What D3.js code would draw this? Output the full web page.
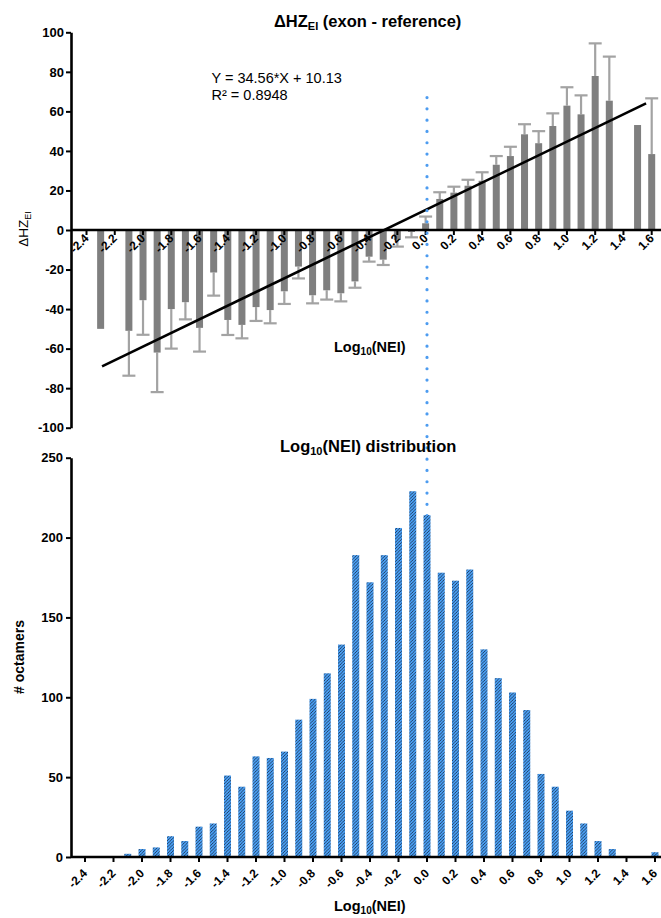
<!DOCTYPE html>
<html>
<head>
<meta charset="utf-8">
<script src="https://cdn.jsdelivr.net/npm/d3@7"></script>
<style>
  html, body { margin: 0; padding: 0; background: #fff; }
  svg { display: block; font-family: "Liberation Sans", Arial, sans-serif; }
</style>
</head>
<body>
<svg id="chart" width="661" height="918"></svg>
<script>
// ---------------- DATA ----------------
// Top panel: ΔHZ_EI (exon - reference) by Log10(NEI) bin
const topBins  = [-2.3,-2.1,-2.0,-1.9,-1.8,-1.7,-1.6,-1.5,-1.4,-1.3,-1.2,-1.1,-1.0,-0.9,-0.8,-0.7,-0.6,-0.5,-0.4,-0.3,-0.2,-0.1,0.0,0.1,0.2,0.3,0.4,0.5,0.6,0.7,0.8,0.9,1.0,1.1,1.2,1.3,1.5,1.6];
const topMeans = [-50,-51,-35.5,-62,-40,-36.5,-49.5,-21.5,-45.5,-48,-39,-40.5,-31,-18.5,-33,-30.5,-32,-26,-13.5,-15,-5,-1,3.4,15.7,18.9,22.4,24.9,33,37.4,48.4,43.9,52.6,62.9,58.5,77.9,65.4,53.1,38.4];
const topErrs  = [0,22.7,17.5,20,20,8.7,12,11.7,7.6,6.8,7,6.7,6.4,6,4.1,4.7,4.1,3.2,2.5,2.7,3.4,2.7,3.4,3.4,3,3,4.3,4.4,4.7,5.1,6.1,6.4,9.3,9.6,16.5,22.3,0,28.2];
const fitSlope = 34.56, fitIntercept = 10.13, fitR2 = "0.8948";
const fitRange = [-2.29, 1.56];
const topYTicks = [100,80,60,40,20,0,-20,-40,-60,-80,-100];

// Bottom panel: Log10(NEI) distribution
const botBins   = [-2.1,-2.0,-1.9,-1.8,-1.7,-1.6,-1.5,-1.4,-1.3,-1.2,-1.1,-1.0,-0.9,-0.8,-0.7,-0.6,-0.5,-0.4,-0.3,-0.2,-0.1,0.0,0.1,0.2,0.3,0.4,0.5,0.6,0.7,0.8,0.9,1.0,1.1,1.2,1.3,1.4,1.5,1.6];
const botCounts = [2,5,6,13,10,19,21,51,44,63,62,66,86,99,115,133,189,172,189,206,229,214,178,173,180,130,112,103,92,52,44,29,21,10,5,0,0,3];
const botYTicks = [0,50,100,150,200,250];

// Shared x tick labels
const xTicks = [-2.4,-2.2,-2.0,-1.8,-1.6,-1.4,-1.2,-1.0,-0.8,-0.6,-0.4,-0.2,0.0,0.2,0.4,0.6,0.8,1.0,1.2,1.4,1.6];
const xTickLabels = ["-2.4","-2.2","-2.0","-1.8","-1.6","-1.4","-1.2","-1.0","-0.8","-0.6","-0.4","-0.2","0.0","0.2","0.4","0.6","0.8","1.0","1.2","1.4","1.6"];

// ---------------- CHART ----------------
const svg = d3.select("#chart");
const FONT = "'Liberation Sans', Arial, sans-serif";
const axisX0 = 71, axisX1 = 661;
const barW = 7;

const topX = d3.scaleLinear().domain([-2.4, 1.6]).range([86.5, 651.7]);
const topY = d3.scaleLinear().domain([-100, 100]).range([427.7, 32.3]);
const botX = d3.scaleLinear().domain([-2.4, 1.6]).range([85, 655]);
const botY = d3.scaleLinear().domain([0, 250]).range([857, 457.7]);

// hatch pattern
const defs = svg.append("defs");
const pat = defs.append("pattern").attr("id", "hatch")
  .attr("patternUnits", "userSpaceOnUse").attr("width", 3.2).attr("height", 3.2);
pat.append("rect").attr("width", 3.2).attr("height", 3.2).attr("fill", "#4aa0f5");
pat.append("path").attr("d", "M-0.8,0.8 L0.8,-0.8 M0,3.2 L3.2,0 M2.4,4 L4,2.4")
  .attr("stroke", "#1b2c45").attr("stroke-width", 0.8);

// ===== TOP PANEL =====
const gTop = svg.append("g");
const topData = topBins.map((b, i) => ({ b, m: topMeans[i], e: topErrs[i] }));

// error bars
const errG = gTop.append("g").attr("stroke", "#a3a3a3").attr("stroke-width", 2.2);
topData.filter(d => d.e > 0).forEach(d => {
  const end = d.m + Math.sign(d.m) * d.e;
  const cx = topX(d.b);
  errG.append("line").attr("x1", cx).attr("x2", cx).attr("y1", topY(d.m)).attr("y2", topY(end));
  errG.append("line").attr("x1", cx - 6.5).attr("x2", cx + 6.5).attr("y1", topY(end)).attr("y2", topY(end));
});

// bars
gTop.append("g").selectAll("rect").data(topData).join("rect")
  .attr("x", d => topX(d.b) - barW / 2)
  .attr("width", barW)
  .attr("y", d => Math.min(topY(d.m), topY(0)))
  .attr("height", d => Math.abs(topY(d.m) - topY(0)))
  .attr("fill", "#7f7f7f");

// regression line
gTop.append("line")
  .attr("x1", topX(fitRange[0])).attr("y1", topY(fitSlope * fitRange[0] + fitIntercept))
  .attr("x2", topX(fitRange[1])).attr("y2", topY(fitSlope * fitRange[1] + fitIntercept))
  .attr("stroke", "#000").attr("stroke-width", 2.6);

// y axis
const yAxTop = gTop.append("g").attr("transform", `translate(${axisX0},0)`)
  .call(d3.axisLeft(topY).tickValues(topYTicks).tickSize(5).tickSizeOuter(0).tickPadding(2).tickFormat(d => String(d)));
yAxTop.select(".domain").attr("stroke-width", 2.6);
yAxTop.selectAll(".tick line").attr("stroke-width", 2);
yAxTop.selectAll(".tick text").attr("font-family", FONT).attr("font-size", 13).attr("font-weight", "bold").attr("fill", "#000");

// x axis (zero line)
const zeroY = topY(0);
gTop.append("line").attr("x1", axisX0).attr("x2", axisX1).attr("y1", zeroY).attr("y2", zeroY)
  .attr("stroke", "#000").attr("stroke-width", 2.6);
const xtTop = gTop.append("g");
xtTop.selectAll("line").data(xTicks).join("line")
  .attr("x1", d => topX(d)).attr("x2", d => topX(d)).attr("y1", zeroY).attr("y2", zeroY + 5)
  .attr("stroke", "#000").attr("stroke-width", 2);
xtTop.selectAll("text").data(xTicks).join("text")
  .attr("transform", d => `translate(${topX(d) + 3},${zeroY + 9}) rotate(-45)`)
  .attr("text-anchor", "end")
  .attr("font-family", FONT).attr("font-size", 12).attr("font-weight", "bold")
  .text((d, i) => xTickLabels[i]);

// title
const t1 = gTop.append("text").attr("x", 274).attr("y", 26.5)
  .attr("font-family", FONT).attr("font-size", 16.5).attr("font-weight", "bold");
t1.append("tspan").text("ΔHZ");
t1.append("tspan").attr("font-size", 11).attr("dy", 3.5).text("EI");
t1.append("tspan").attr("dy", -3.5).text(" (exon - reference)");

// y label
const yl1 = gTop.append("text").attr("transform", "translate(28,229) rotate(-90)")
  .attr("text-anchor", "middle").attr("font-family", FONT).attr("font-size", 13.5);
yl1.append("tspan").text("ΔHZ");
yl1.append("tspan").attr("font-size", 9).attr("dy", 3).text("EI");

// fit text
gTop.append("text").attr("x", 211.5).attr("y", 83.3).attr("font-family", FONT).attr("font-size", 14.5)
  .text(`Y = ${fitSlope}*X + ${fitIntercept}`);
gTop.append("text").attr("x", 211.5).attr("y", 100).attr("font-family", FONT).attr("font-size", 14.5)
  .text(`R² = ${fitR2}`);

// Log10(NEI) label
function logLabel(g, x, y) {
  const t = g.append("text").attr("x", x).attr("y", y)
    .attr("font-family", FONT).attr("font-size", 14.5).attr("font-weight", "bold");
  t.append("tspan").text("Log");
  t.append("tspan").attr("font-size", 10).attr("dy", 3).text("10");
  t.append("tspan").attr("dy", -3).text("(NEI)");
}
logLabel(gTop, 334, 352);

// ===== dotted vertical line at Log10(NEI)=0 =====
svg.append("line")
  .attr("x1", botX(0)).attr("x2", botX(0))
  .attr("y1", topY(67)).attr("y2", botY(0))
  .attr("stroke", "#4d9cf0").attr("stroke-width", 3.2)
  .attr("stroke-linecap", "round").attr("stroke-dasharray", "0,11.3");

// ===== BOTTOM PANEL =====
const gBot = svg.append("g");
const botData = botBins.map((b, i) => ({ b, c: botCounts[i] }));
gBot.append("g").selectAll("rect").data(botData.filter(d => d.c > 0)).join("rect")
  .attr("x", d => botX(d.b) - barW / 2)
  .attr("width", barW)
  .attr("y", d => botY(d.c))
  .attr("height", d => botY(0) - botY(d.c))
  .attr("fill", "url(#hatch)");

// y axis
const yAxBot = gBot.append("g").attr("transform", `translate(${axisX0},0)`)
  .call(d3.axisLeft(botY).tickValues(botYTicks).tickSize(5).tickSizeOuter(0).tickPadding(3).tickFormat(d => String(d)));
yAxBot.select(".domain").attr("stroke-width", 2.6);
yAxBot.selectAll(".tick line").attr("stroke-width", 2);
yAxBot.selectAll(".tick text").attr("font-family", FONT).attr("font-size", 13).attr("font-weight", "bold").attr("fill", "#000");

// x axis
const baseY = botY(0);
gBot.append("line").attr("x1", axisX0).attr("x2", axisX1).attr("y1", baseY).attr("y2", baseY)
  .attr("stroke", "#000").attr("stroke-width", 2.6);
const xtBot = gBot.append("g");
xtBot.selectAll("line").data(xTicks).join("line")
  .attr("x1", d => botX(d)).attr("x2", d => botX(d)).attr("y1", baseY).attr("y2", baseY + 5)
  .attr("stroke", "#000").attr("stroke-width", 2);
xtBot.selectAll("text").data(xTicks).join("text")
  .attr("transform", d => `translate(${botX(d) + 3},${baseY + 17}) rotate(-45)`)
  .attr("text-anchor", "end")
  .attr("font-family", FONT).attr("font-size", 12).attr("font-weight", "bold")
  .text((d, i) => xTickLabels[i]);

// title
const t2 = gBot.append("text").attr("x", 280).attr("y", 451.5)
  .attr("font-family", FONT).attr("font-size", 16.5).attr("font-weight", "bold");
t2.append("tspan").text("Log");
t2.append("tspan").attr("font-size", 11).attr("dy", 3.5).text("10");
t2.append("tspan").attr("dy", -3.5).text("(NEI) distribution");

// y label
gBot.append("text").attr("transform", "translate(24,657) rotate(-90)")
  .attr("text-anchor", "middle").attr("font-family", FONT).attr("font-size", 14).attr("font-weight", "bold")
  .text("# octamers");

// x label
logLabel(gBot, 334, 910.5);
</script>
</body>
</html>
